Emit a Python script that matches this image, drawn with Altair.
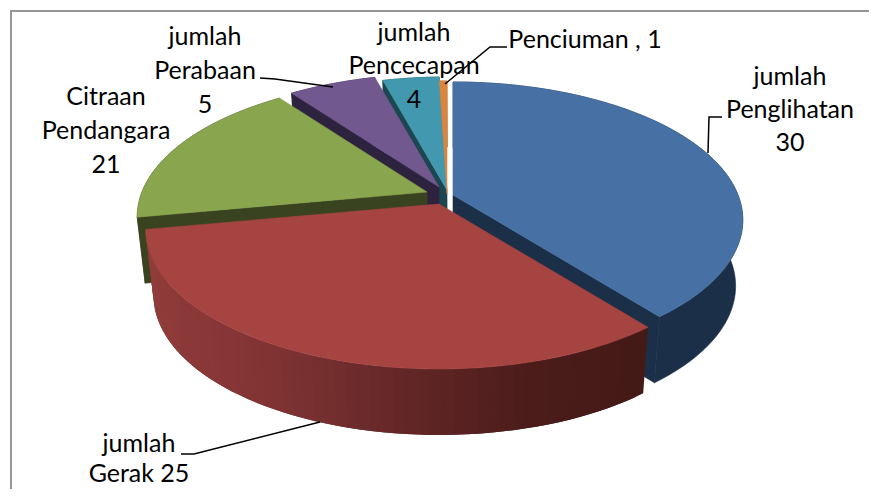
import math
import altair as alt
import pandas as pd

# ---- data ----
categories = ["Penglihatan", "Gerak", "Pendangaran", "Perabaan", "Pencecapan", "Penciuman"]
slice_values = [30, 25, 13.6, 4.45, 2.87, 0.38]   # sizes of the drawn slices
label_lines = [
    ["jumlah", "Penglihatan", "30"],
    ["jumlah", "Gerak 25"],
    ["Citraan", "Pendangara", "21"],
    ["jumlah", "Perabaan", "5"],
    ["jumlah", "Pencecapan", "4"],
    ["Penciuman , 1"],
]

# ---- layout and style (page pixels, margin removed below) ----
W, H = 861, 481
M = 8
top_colors = ["#4771a5", "#a54441", "#89a54e", "#71588f", "#4198af", "#db843d"]
wall_colors = ["#1b2f48", "#6a2a29", "#3a431f", "#2e233f", "#1c4650", "#6e421e"]
apexes = [(453, 195), (439, 204), (427, 192), (439, 187), (447, 190), (447, 194)]
radius_scale = [1, 1.012, 1, 1, 1, 1]
R_X, R_Y, PERSP = 285, 133.5, 0.181
DEPTH, BOTTOM_SCALE, BOTTOM_CX = 66, 0.975, 456
label_pos = [
    (790, [77, 110, 143]),
    (139, [444, 474]),
    (106, [97, 131, 165]),
    (205, [37, 71, 105]),
    (414, [33, 66, 100]),
    (585, [40]),
]
leaders = [
    [(722, 117), (709, 117), (708, 153)],
    [(181, 454), (194, 454), (320, 422)],
    [(260, 78), (275, 79), (333, 87)],
    [(507, 47), (490, 47), (445, 84)],
]
frame = [(11, 489), (11, 11), (869, 11)]
FONT, FSIZE = "Lato", 25

xs = alt.Scale(domain=[0, W], nice=False, zero=False)
ys = alt.Scale(domain=[H, 0], nice=False, zero=False)


def rim(i, deg):
    t = math.radians(deg)
    u, v = math.sin(t), -math.cos(t)
    s = radius_scale[i] / (1 - PERSP * v)
    return (apexes[i][0] + R_X * u * s, apexes[i][1] + R_Y * v * s)


def drop(p):
    return (BOTTOM_CX + (p[0] - BOTTOM_CX) * BOTTOM_SCALE, p[1] + DEPTH)


def poly(points, fill, edge=0.6):
    df = pd.DataFrame(
        [{"i": k, "x": p[0] - M, "y": p[1] - M} for k, p in enumerate(points + points[:1])]
    )
    return alt.Chart(df).mark_line(fill=fill, stroke=fill, strokeWidth=edge, interpolate="linear").encode(
        x=alt.X("x:Q", scale=xs, axis=None),
        y=alt.Y("y:Q", scale=ys, axis=None),
        order="i:Q",
    )


def open_line(points, color, width):
    df = pd.DataFrame(
        [{"i": k, "x": p[0] - M, "y": p[1] - M} for k, p in enumerate(points)]
    )
    return alt.Chart(df).mark_line(color=color, strokeWidth=width).encode(
        x=alt.X("x:Q", scale=xs, axis=None),
        y=alt.Y("y:Q", scale=ys, axis=None),
        order="i:Q",
    )


total = sum(slice_values)
starts, ends, acc = [], [], 0.0
for v in slice_values:
    starts.append(acc / total * 360)
    acc += v
    ends.append(acc / total * 360)


def arc_pts(i, step=1.0):
    n = max(2, int(math.ceil((ends[i] - starts[i]) / step)))
    return [rim(i, starts[i] + (ends[i] - starts[i]) * k / n) for k in range(n + 1)]


def top(i):
    return poly([apexes[i]] + arc_pts(i), top_colors[i])


def cut_start(i):
    a, b = apexes[i], rim(i, starts[i])
    return poly([a, b, drop(b), drop(a)], wall_colors[i])


def cut_end(i):
    a, b = apexes[i], rim(i, ends[i])
    return poly([a, b, drop(b), drop(a)], wall_colors[i])


def outer(i):
    pts = arc_pts(i)
    return poly(pts + [drop(p) for p in reversed(pts)], wall_colors[i])


def red_shade(x):
    stops = [(150, (0x90, 0x3c, 0x3a)), (280, (0x80, 0x33, 0x33)), (400, (0x66, 0x28, 0x29)),
             (540, (0x4c, 0x1c, 0x1a)), (645, (0x44, 0x1a, 0x16))]
    if x <= stops[0][0]:
        c = stops[0][1]
    elif x >= stops[-1][0]:
        c = stops[-1][1]
    else:
        for (x0, c0), (x1, c1) in zip(stops, stops[1:]):
            if x0 <= x <= x1:
                f = (x - x0) / (x1 - x0)
                c = tuple(int(round(a + (b - a) * f)) for a, b in zip(c0, c1))
                break
    return "#%02x%02x%02x" % c


def red_wall():
    pts = arc_pts(1, step=2.0)
    out = []
    # painted from the right end leftwards, each strip overlapping the one after it
    for k in range(len(pts) - 1):
        a = pts[k]
        c = pts[min(k + 2, len(pts) - 1)]
        b = pts[k + 1]
        out.append(poly([a, b, c, drop(c), drop(b), drop(a)], red_shade((a[0] + b[0]) / 2), edge=0))
    return out[::-1]


layers = [open_line(frame, "#969696", 2)]
# back slices
layers += [cut_start(4), outer(4), outer(5), cut_start(3), outer(3)]
layers += [top(4), top(5), top(3)]
# green
layers += [outer(2), cut_start(2), top(2)]
# blue
layers += [outer(0), cut_end(0), top(0)]
# red, front
layers += red_wall() + [top(1)]

for pts in leaders:
    layers.append(open_line(pts, "#000000", 1.5))

rows = []
for lines, (lx, lys) in zip(label_lines, label_pos):
    for t, ly in zip(lines, lys):
        rows.append({"t": t, "x": lx - M, "y": ly - M})
layers.append(
    alt.Chart(pd.DataFrame(rows)).mark_text(
        font=FONT, fontSize=FSIZE, color="#000000", align="center", baseline="middle"
    ).encode(
        x=alt.X("x:Q", scale=xs, axis=None),
        y=alt.Y("y:Q", scale=ys, axis=None),
        text="t:N",
    )
)

chart = alt.layer(*layers).properties(
    width=W, height=H, padding=0, background="#ffffff",
    autosize=alt.AutoSizeParams(type="none"),
).configure_view(stroke=None)

chart.save("out.html", embed_options={"renderer": "svg", "actions": False})
